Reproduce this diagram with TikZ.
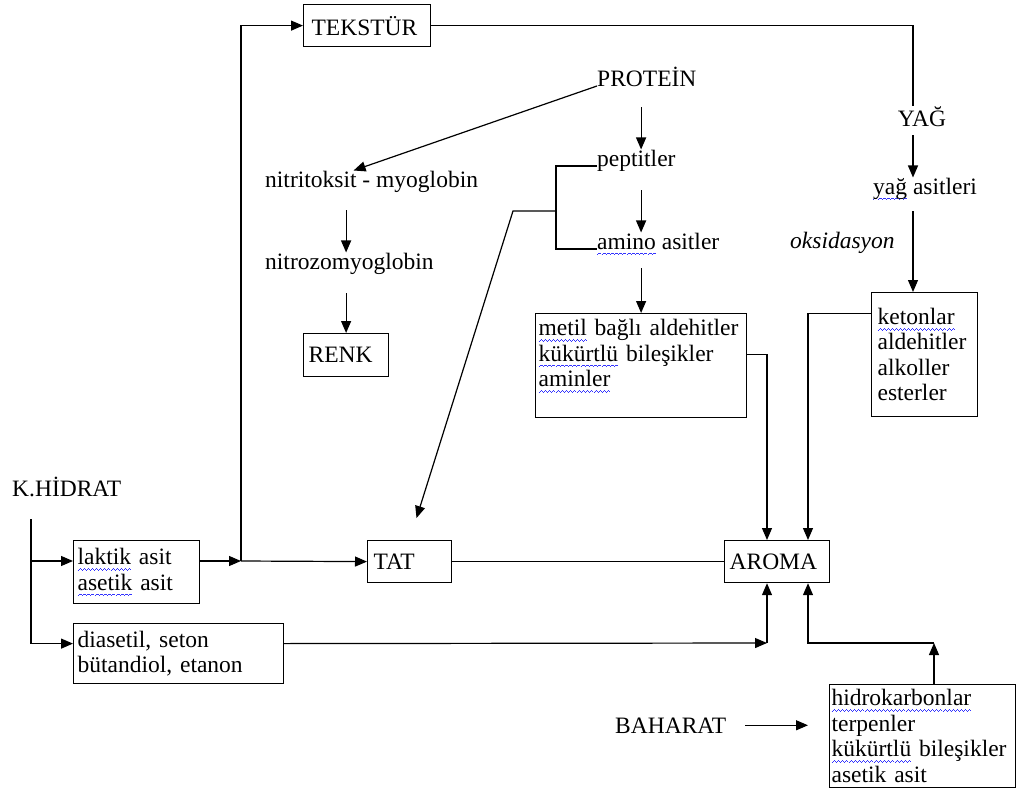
\documentclass[tikz,border=0pt]{standalone}
\usepackage{fontspec}
\setmainfont{Liberation Serif}
\usepackage{tikz}
\usetikzlibrary{arrows.meta}
\tikzstyle{arrow} = [line width=1.2pt,-{Triangle[length=12pt,width=10pt]}]
\tikzstyle{line} = [line width=1.2pt]
\tikzstyle{box} = [draw,line width=1.2pt,anchor=north west,align=left,inner ysep=0pt]
\tikzstyle{txt} = [inner sep=0pt,anchor=base west]
\newsavebox{\splbox}
\newcommand{\splwave}{\hbox{\rule[-6pt]{1pt}{0.8pt}\rule[-5.2pt]{1pt}{0.8pt}\rule[-4.4pt]{1pt}{0.8pt}\rule[-5.2pt]{1pt}{0.8pt}}}
\newcommand{\spl}[1]{\leavevmode\sbox{\splbox}{#1}\rlap{\textcolor{blue!80}{\hbox to\wd\splbox{\xleaders\splwave\hfill}}}#1}

\begin{document}
\begin{tikzpicture}[x=1pt,y=-1pt,font=\fontsize{23.5}{25.5}\selectfont]
\useasboundingbox (0,0) rectangle (1017,792);

\node[box,text width=111pt,inner xsep=8pt,minimum height=42pt] (tekstur) at (303,4) {TEKSTÜR};
\node[box,text width=75pt,inner xsep=5pt,minimum height=43pt] (renk) at (303,333) {RENK};
\node[box,text width=205pt,inner xsep=3pt,minimum height=104pt] (metil) at (535,313)
  {\spl{metil} bağlı aldehitler\\\spl{kükürtlü} bileşikler\\\spl{aminler}\\\mbox{}};
\node[box,text width=94pt,inner xsep=6pt,minimum height=124pt] (keton) at (871,292)
  {\spl{ketonlar}\\aldehitler\\alkoller\\esterler};
\node[box,text width=118pt,inner xsep=4pt,minimum height=63pt] (laktik) at (73,540)
  {\spl{laktik} asit\\\spl{asetik} asit};
\node[box,text width=202pt,inner xsep=4pt,minimum height=60pt] (diasetil) at (73,623)
  {diasetil, seton\\bütandiol, etanon};
\node[box,text width=72pt,inner xsep=6pt,minimum height=42pt] (tat) at (367,540) {TAT};
\node[box,text width=95pt,inner xsep=5pt,minimum height=42pt] (aroma) at (724,540) {AROMA};
\node[box,text width=182pt,inner xsep=2pt,minimum height=103pt] (hidro) at (829,684)
  {\spl{hidrokarbonlar}\\terpenler\\\spl{kükürtlü} bileşikler\\asetik asit};

\node[txt] (protein) at (597,86) {PROTEİN};
\node[txt,anchor=base] (yag) at (922,126) {YAĞ};
\node[txt] (yagasit) at (873,194) {\spl{yağ} asitleri};
\node[txt] (oks) at (790,248) {\itshape oksidasyon};
\node[txt] (peptit) at (597,166) {peptitler};
\node[txt] (amino) at (597,249) {\spl{amino} asitler};
\node[txt] (nitrit) at (265,187) {nitritoksit - myoglobin};
\node[txt] (nitrozo) at (265,269) {nitrozomyoglobin};
\node[txt] (khidrat) at (12,496) {K.HİDRAT};
\node[txt] (baharat) at (615,733) {BAHARAT};

\coordinate (tk) at (913,24);
\coordinate (kh) at (31,519);
\coordinate (jn) at (241,561);
\coordinate (ad) at (767,643);
\coordinate (ha) at (808,643);
\coordinate (hc) at (934,643);
\coordinate (pb) at (556,211);
\coordinate (pk) at (513,211);

\draw[line] (tekstur.east) -| (yag.north -| tk);
\draw[arrow,shorten <=9pt] (yag.south -| tk) -- (yagasit.north -| tk);
\draw[arrow,shorten <=11pt] (yagasit.south -| tk) -- (keton.north -| tk);
\draw[arrow] (protein.base west) -- ([xshift=-18pt]nitrit.north);
\draw[arrow,shorten <=21pt] (protein.south -| metil.north) -- (peptit.north -| metil.north);
\draw[arrow,shorten <=19pt] (peptit.south -| metil.north) -- (amino.north -| metil.north);
\draw[arrow,shorten <=13pt] (amino.south -| metil.north) -- (metil.north);
\draw[arrow,shorten <=18pt] (nitrit.south -| renk.north) -- (nitrozo.north -| renk.north);
\draw[arrow,shorten <=19pt] (nitrozo.south -| renk.north) -- (renk.north);
\draw[line] (peptit.base west) -| (pb) |- (amino.base west);
\draw[arrow,shorten >=23pt] (pb) -- (pk) -- (tat.north);

\draw[arrow] (kh) |- (laktik.west |- jn);
\draw[arrow] (kh) |- ([yshift=10pt]diasetil.west);
\draw[arrow] (laktik.east |- jn) -- (jn);
\draw[arrow] (jn) -- (tat.west);
\draw[arrow] (jn) |- (tekstur.west);
\draw[line] (tat.east) -- (aroma.west);
\draw[arrow] ([yshift=10pt]diasetil.east) -- (ad);
\draw[arrow] (ad) -- (aroma.south -| ad);
\draw[arrow] ([yshift=11pt]metil.east) -| (aroma.north -| ad);
\draw[arrow] ([yshift=41pt]keton.west) -| (aroma.north -| ha);
\draw[arrow] (hidro.north -| hc) -- (hc);
\draw[arrow] (hc) -| (aroma.south -| ha);
\draw[arrow,shorten <=19pt,shorten >=21pt] (baharat.east) -- (hidro.west |- baharat.east);

\end{tikzpicture}
\end{document}
